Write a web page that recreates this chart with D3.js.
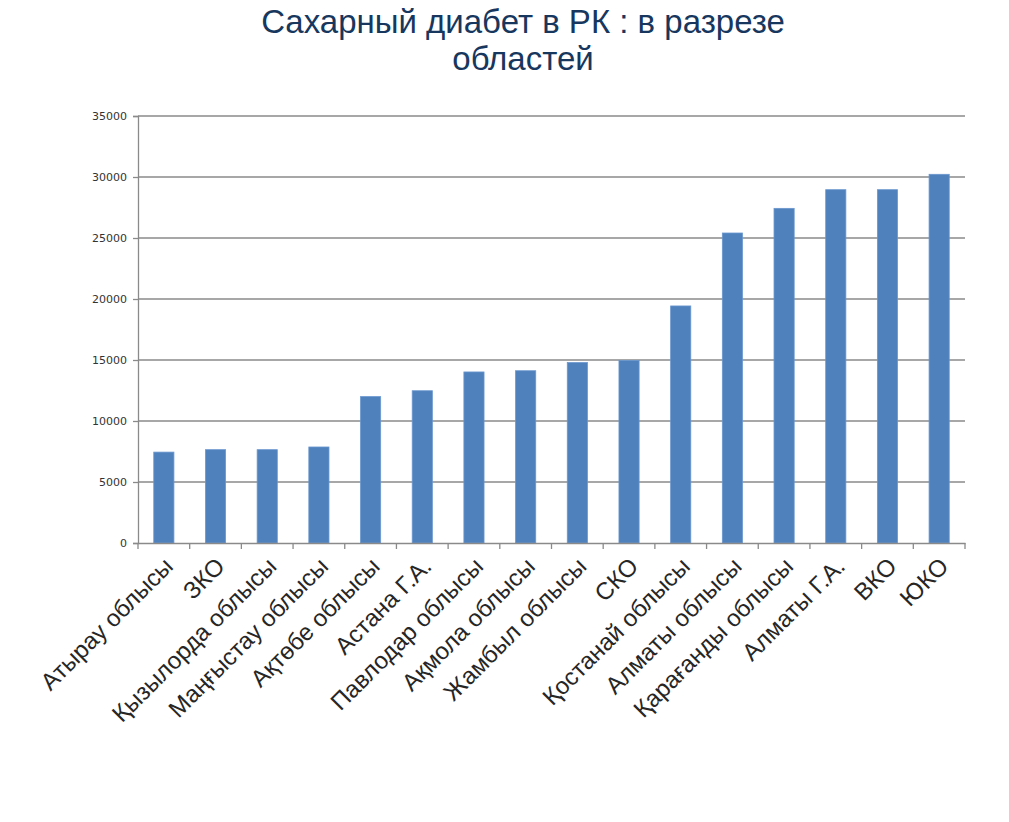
<!DOCTYPE html>
<html>
<head>
<meta charset="utf-8">
<script src="https://cdn.jsdelivr.net/npm/d3@7"></script>
<style>
  body { margin: 0; background: #fff; }
</style>
</head>
<body>
<svg id="chart"></svg>
<script>
// data
const regions = ["Атырау облысы", "ЗКО", "Қызылорда облысы", "Маңғыстау облысы", "Ақтөбе облысы",
  "Астана Г.А.", "Павлодар облысы", "Ақмола облысы", "Жамбыл облысы", "СКО", "Қостанай облысы",
  "Алматы облысы", "Қарағанды облысы", "Алматы Г.А.", "ВКО", "ЮКО"];
const cases = [7450, 7650, 7650, 7870, 12000, 12480, 14020, 14120, 14790, 14960, 19430,
  25410, 27430, 28960, 28960, 30220];
const yTicks = [0, 5000, 10000, 15000, 20000, 25000, 30000, 35000];
const titleLines = ["Сахарный диабет в РК : в разрезе", "областей"];

const width = 1009, height = 822;
const svg = d3.select("#chart").attr("width", width).attr("height", height);

// plot area
const plotLeft = 138, plotRight = 965, plotTop = 116, plotBottom = 543;

const x = d3.scaleBand().domain(regions).range([plotLeft, plotRight]).paddingInner(0.61).paddingOuter(0.305);
const y = d3.scaleLinear().domain([0, 35000]).range([plotBottom, plotTop]);

// title
svg.append("g").selectAll("text")
  .data(titleLines)
  .enter()
  .append("text")
  .attr("x", 523)
  .attr("y", (d, i) => 33 + i * 37)
  .attr("text-anchor", "middle")
  .attr("font-family", "Liberation Sans, Arial, sans-serif")
  .attr("font-size", 33)
  .attr("fill", "#17375e")
  .text(d => d);

// gridlines
svg.append("g").selectAll("line")
  .data(yTicks.filter(d => d > 0))
  .enter()
  .append("line")
  .attr("x1", plotLeft)
  .attr("x2", plotRight)
  .attr("y1", d => y(d))
  .attr("y2", d => y(d))
  .attr("stroke", "#8a8a8a")
  .attr("stroke-width", 1.3);

// y axis
const yAxis = svg.append("g")
  .attr("transform", `translate(${plotLeft},0)`)
  .call(d3.axisLeft(y).tickValues(yTicks).tickSize(5).tickPadding(6).tickFormat(d3.format("d")));
yAxis.select(".domain").attr("stroke", "#8a8a8a").attr("stroke-width", 1.3);
yAxis.selectAll(".tick line").attr("stroke", "#8a8a8a").attr("stroke-width", 1.3);
yAxis.selectAll(".tick text")
  .attr("font-family", "DejaVu Sans, sans-serif")
  .attr("font-size", 11)
  .attr("fill", "#333");

// bars
svg.append("g").selectAll("rect")
  .data(regions)
  .enter()
  .append("rect")
  .attr("x", d => x(d))
  .attr("y", (d, i) => y(cases[i]))
  .attr("width", x.bandwidth())
  .attr("height", (d, i) => plotBottom - y(cases[i]))
  .attr("fill", "#4f81bd")
  .attr("stroke", "#6a97cf")
  .attr("stroke-width", 0.8);

// x axis
const xAxis = svg.append("g")
  .attr("transform", `translate(0,${plotBottom})`)
  .call(d3.axisBottom(x).tickSize(0).tickFormat(""));
xAxis.select(".domain").attr("stroke", "#8a8a8a").attr("stroke-width", 1.3);

// tick marks between categories
svg.append("g").selectAll("line")
  .data(d3.range(regions.length + 1))
  .enter()
  .append("line")
  .attr("x1", i => plotLeft + i * (plotRight - plotLeft) / regions.length)
  .attr("x2", i => plotLeft + i * (plotRight - plotLeft) / regions.length)
  .attr("y1", plotBottom)
  .attr("y2", plotBottom + 6)
  .attr("stroke", "#8a8a8a")
  .attr("stroke-width", 1.3);

// x labels
svg.append("g").selectAll("text")
  .data(regions)
  .enter()
  .append("text")
  .attr("transform", d => `translate(${x(d) + x.bandwidth() / 2 - 2},${plotBottom + 12}) rotate(-45)`)
  .attr("text-anchor", "end")
  .attr("dy", "0.75em")
  .attr("font-family", "Liberation Sans, Arial, sans-serif")
  .attr("font-size", 24)
  .attr("fill", "#262626")
  .text(d => d);
</script>
</body>
</html>
